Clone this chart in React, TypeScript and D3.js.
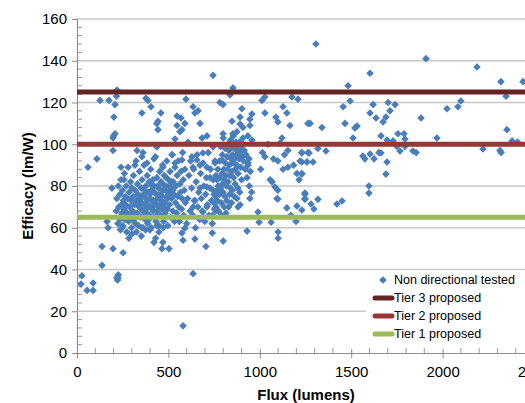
import React, { useEffect, useRef } from 'react';
import * as d3 from 'd3';

// efficacy (lm/W) vs flux (lumens)
const lowLeftPoints: [number, number][] = [
  [22, 33], [27, 37], [55, 30], [88, 33.5], [88, 30], [137, 42], [137, 51], [197, 50],
  [218, 36], [222, 35], [226, 37.5], [224, 36], [252, 48], [284, 55], [580, 13], [635, 38],
  [170, 60], [164, 63], [355, 60], [399, 59], [437, 61], [246, 60], [235, 64], [273, 67],
  [421, 53], [465, 50], [470, 53], [503, 50], [574, 57.5], [590, 59.8], [580, 54], [705, 51],
  [645, 54.6], [800, 53.6], [740, 57.5], [930, 58.4], [996, 62.6], [1062, 62.6], [1100, 58],
  [1100, 55], [1198, 63], [300, 57], [325, 58], [352, 56], [375, 59], [430, 55], [448, 58], [472, 60],
];

const upperLeftPoints: [number, number][] = [
  [60, 89], [109, 93], [126, 121], [175, 121], [208, 119], [202, 113], [208, 105], [197, 103],
  [200, 104], [197, 97], [219, 126], [216, 123], [241, 89], [257, 83], [191, 79], [377, 122],
  [388, 121], [405, 118], [355, 115], [459, 115], [443, 111], [437, 110], [443, 107], [547, 113.5],
  [596, 121.6], [569, 112.6], [590, 110], [547, 109], [574, 107], [563, 106], [536, 102.5],
  [607, 101], [328, 97], [361, 96], [355, 94], [437, 98.7], [421, 93], [383, 91], [317, 90],
  [470, 89], [520, 95], [574, 92.5], [536, 91], [629, 94], [673, 110], [662, 116], [645, 115],
  [635, 118], [711, 104], [684, 103], [744, 133],
];

const leftCluster: [number, number][] = [
  [215, 68], [218, 74], [224, 62], [226, 80], [229, 70], [233, 65], [235, 76], [238, 59], [241, 83],
  [243, 71], [246, 67], [249, 78], [251, 61], [254, 73], [257, 69], [259, 86], [262, 64], [264, 75],
  [267, 71], [270, 80], [272, 58], [274, 67], [277, 74], [280, 89], [283, 63], [285, 77], [288, 70],
  [291, 66], [293, 82], [296, 73], [298, 60], [301, 79], [304, 68], [307, 75], [309, 85], [312, 64],
  [315, 71], [318, 78], [320, 62], [323, 92], [326, 73], [329, 67], [331, 81], [334, 76], [337, 61],
  [340, 70], [342, 87], [345, 74], [348, 65], [351, 79], [354, 72], [356, 83], [359, 68], [362, 60],
  [364, 76], [367, 90], [370, 71], [373, 64], [376, 80], [378, 74], [381, 67], [384, 85], [387, 62],
  [389, 77], [392, 70], [395, 82], [398, 66], [401, 74], [403, 88], [406, 60], [409, 78], [412, 69],
  [415, 83], [418, 73], [420, 65], [423, 80], [426, 71], [429, 94], [432, 63], [434, 76], [437, 84],
  [440, 68], [443, 74], [446, 79], [449, 61], [452, 87], [454, 71], [457, 66], [460, 82], [463, 75],
  [466, 69], [468, 90], [471, 78], [474, 63], [477, 85], [480, 72], [483, 67], [486, 80], [489, 75],
  [491, 92], [494, 69], [497, 61], [500, 83], [503, 77], [506, 71], [509, 87], [512, 65], [515, 79],
  [518, 74], [521, 95], [524, 68], [527, 82], [530, 76], [533, 63], [536, 89], [539, 72], [542, 80],
  [545, 67], [548, 85], [551, 75], [554, 92], [557, 70], [560, 63], [563, 81], [566, 77], [569, 87],
  [572, 69], [575, 74], [578, 96], [581, 83], [584, 66], [587, 78], [590, 88], [593, 72],
  [305, 64], [318, 67], [333, 72], [347, 70], [358, 75], [366, 66], [372, 78], [379, 69], [385, 73],
  [393, 64], [399, 76], [405, 71], [411, 80], [417, 68], [422, 77], [428, 72], [436, 66], [441, 80],
  [447, 70], [455, 76], [462, 73], [469, 81], [475, 70], [482, 78], [488, 84], [496, 74], [502, 80],
  [510, 76], [517, 82], [525, 78],
];

const middlePoints: [number, number][] = [
  [600, 62], [605, 74], [612, 85], [618, 68], [622, 92], [627, 79], [633, 66], [638, 88], [642, 73],
  [648, 60], [652, 82], [657, 95], [661, 70], [666, 77], [671, 64], [676, 86], [680, 74], [685, 68],
  [690, 91], [694, 80], [699, 63], [704, 76], [708, 84], [713, 71], [718, 96], [722, 66], [727, 79],
  [731, 88], [736, 73], [740, 62], [745, 83], [750, 76], [755, 92], [760, 68],
];

const diagonalCluster: [number, number][] = [
  [742, 66], [748, 72], [752, 69], [757, 75], [761, 70], [765, 78], [768, 73], [772, 80], [775, 68],
  [779, 76], [782, 84], [786, 79], [789, 72], [793, 86], [796, 81], [799, 77], [803, 88], [806, 83],
  [809, 75], [812, 91], [815, 85], [818, 80], [821, 94], [824, 88], [827, 82], [830, 97], [833, 90],
  [836, 85], [839, 79], [842, 93], [845, 99], [848, 87], [851, 95], [854, 91], [857, 84], [860, 98],
  [863, 93], [866, 88], [869, 100], [872, 95], [875, 90], [878, 97], [881, 86], [884, 99], [887, 93],
  [890, 101], [893, 96], [896, 89], [899, 98], [903, 94], [907, 100], [911, 92], [915, 97], [920, 88],
  [925, 95], [930, 84], [936, 91], [942, 80], [948, 87], [955, 77],
  [780, 92], [795, 95], [810, 98], [825, 100], [840, 102], [855, 104], [870, 101], [790, 66],
  [805, 70], [820, 73], [835, 76], [850, 78], [865, 81], [880, 79], [900, 83], [760, 85], [770, 88],
  [785, 99], [800, 103], [815, 67], [830, 70], [845, 72], [860, 75], [875, 74], [890, 77],
];

const upperMidPoints: [number, number][] = [
  [853, 127], [837, 123.6], [782, 120], [799, 119], [902, 117], [848, 111], [892, 113], [957, 114.5],
  [946, 112], [892, 109.7], [908, 108], [946, 109], [1028, 115], [1012, 121], [1028, 122.6],
  [1088, 113], [1099, 110.7], [1127, 118], [1148, 115], [1165, 109], [1176, 122.6], [1209, 121.6],
  [1264, 110], [875, 106], [799, 105], [853, 105], [935, 104], [957, 102], [908, 103], [1121, 103],
  [1110, 100.5], [744, 98.7], [1154, 97], [1230, 95.8], [1264, 96], [1028, 94], [1099, 92],
  [1220, 92], [1258, 91.5], [1127, 88], [1154, 89], [1203, 86], [1230, 85.7], [1067, 82],
  [1083, 79.5], [1099, 78], [1099, 73.8], [1148, 69.5], [1203, 70.4], [1247, 74], [1247, 76.6],
  [689, 95.8], [656, 92.5], [673, 90], [711, 89], [755, 91], [793, 92.5], [635, 89], [728, 84],
  [673, 79], [711, 79.5], [744, 78], [766, 83], [645, 73], [635, 70], [711, 70], [689, 67.5],
  [892, 71], [946, 74], [881, 70], [990, 67.5], [935, 90], [941, 93], [1056, 83], [1094, 74],
  [1005, 88], [1015, 96], [1045, 100], [1075, 93], [1135, 95], [1185, 90], [1215, 83], [1170, 66],
];

const rightPoints: [number, number][] = [
  [1307, 148], [1909, 141], [2188, 137], [2319, 130], [2440, 130], [1603, 134], [1483, 128],
  [1494, 120.7], [1456, 118], [1620, 119], [1702, 120], [1740, 119], [1712, 116], [1603, 115],
  [1636, 112.6], [1690, 113], [1674, 110.7], [1275, 110], [1340, 108], [1466, 110], [1520, 107.8],
  [1532, 108.7], [1510, 103], [1663, 104], [1882, 112.6], [2024, 117], [2084, 118], [2100, 120.7],
  [2347, 123], [2352, 107], [2380, 101.6], [2410, 101], [1969, 103], [2221, 97.7], [2314, 97],
  [2320, 96], [1696, 102], [1729, 101.6], [1756, 105], [1789, 105], [1794, 102.5], [1750, 99],
  [1767, 96.8], [1794, 99], [1838, 96.8], [1855, 96], [1663, 95.8], [1652, 96], [1603, 95.3],
  [1625, 93], [1696, 91.5], [1690, 85.7], [1564, 94.4], [1575, 93], [1597, 80], [1597, 76.6],
  [1230, 96], [1270, 95.8], [1230, 91.5], [1258, 91.5], [1291, 91.5], [1230, 86], [1318, 98],
  [1362, 96.8], [1247, 76], [1247, 73.6], [1280, 71.4], [1296, 69], [1318, 73.6], [1230, 68.5],
  [1422, 71.4], [1450, 72.8],
];

const scatterPoints = [
  ...lowLeftPoints, ...upperLeftPoints, ...leftCluster, ...middlePoints,
  ...diagonalCluster, ...upperMidPoints, ...rightPoints,
];

const tierNames = ['Tier 3 proposed', 'Tier 2 proposed', 'Tier 1 proposed'];
const tierValues = [125, 100, 65];
const tierColors = ['#632523', '#953735', '#9bbb59'];
const seriesName = 'Non directional tested';

const yTicks = [0, 20, 40, 60, 80, 100, 120, 140, 160];
const xTicks = [0, 500, 1000, 1500, 2000, 2500];

const App = () => {
  const svgRef = useRef<SVGSVGElement>(null);

  useEffect(() => {
    const W = 525, H = 403;
    const left = 77, top = 19, bottom = 353, right = 534;
    const svg = d3.select(svgRef.current);
    svg.selectAll('*').remove();
    svg.attr('width', W).attr('height', H);

    const x = d3.scaleLinear().domain([0, 2500]).range([left, right]);
    const y = d3.scaleLinear().domain([0, 160]).range([bottom, top]);
    const font = 'Liberation Sans, Arial, sans-serif';

    svg.append('rect').attr('width', W).attr('height', H).attr('fill', 'white');

    // gridlines
    svg.append('g').selectAll('line')
      .data(yTicks.filter(d => d > 0))
      .enter().append('line')
      .attr('x1', left).attr('x2', right)
      .attr('y1', d => y(d)).attr('y2', d => y(d))
      .attr('stroke', '#c8c8c8').attr('stroke-width', 1.5);

    // minor ticks
    const yMinor = d3.range(0, 161, 4).filter(d => d % 20 !== 0);
    svg.append('g').selectAll('line').data(yMinor).enter().append('line')
      .attr('x1', left).attr('x2', left + 5)
      .attr('y1', d => y(d)).attr('y2', d => y(d))
      .attr('stroke', '#999').attr('stroke-width', 1);
    const xMinor = d3.range(0, 2501, 100).filter(d => d % 500 !== 0);
    svg.append('g').selectAll('line').data(xMinor).enter().append('line')
      .attr('x1', d => x(d)).attr('x2', d => x(d))
      .attr('y1', bottom - 5).attr('y2', bottom)
      .attr('stroke', '#999').attr('stroke-width', 1);

    // axes
    const yAxis = svg.append('g').attr('transform', `translate(${left},0)`)
      .call(d3.axisLeft(y).tickValues(yTicks).tickSize(5).tickPadding(5));
    const xAxis = svg.append('g').attr('transform', `translate(0,${bottom})`)
      .call(d3.axisBottom(x).tickValues(xTicks).tickFormat(d3.format('d')).tickSize(5).tickPadding(8));
    [yAxis, xAxis].forEach(a => {
      a.select('.domain').attr('stroke', '#8c8c8c').attr('stroke-width', 1.2);
      a.selectAll('.tick line').attr('stroke', '#8c8c8c');
      a.selectAll('.tick text').attr('fill', '#000').style('font-size', '15px').style('font-family', font);
    });
    xAxis.selectAll('.tick line').attr('y1', -4);

    // scatter
    const diamond = 'M0,-3.8L3.8,0L0,3.8L-3.8,0Z';
    svg.append('g').selectAll('path').data(scatterPoints).enter().append('path')
      .attr('d', diamond)
      .attr('transform', d => `translate(${x(d[0])},${y(d[1])})`)
      .attr('fill', '#4a7ebb');

    // tier lines
    svg.append('g').selectAll('line').data(tierValues).enter().append('line')
      .attr('x1', left).attr('x2', right)
      .attr('y1', d => y(d)).attr('y2', d => y(d))
      .attr('stroke', (d, i) => tierColors[i]).attr('stroke-width', 5);

    // axis titles
    svg.append('text')
      .attr('x', 306).attr('y', 400)
      .attr('text-anchor', 'middle')
      .style('font-size', '15px').style('font-weight', 'bold').style('font-family', font)
      .text('Flux (lumens)');
    svg.append('text')
      .attr('transform', 'translate(33,186) rotate(-90)')
      .attr('text-anchor', 'middle')
      .style('font-size', '15px').style('font-weight', 'bold').style('font-family', font)
      .text('Efficacy (lm/W)');

    // legend
    const lg = svg.append('g');
    lg.append('rect').attr('x', 366).attr('y', 271).attr('width', 160).attr('height', 74).attr('fill', 'white');
    const rowY = [280, 298, 316, 334];
    lg.append('path').attr('d', diamond).attr('transform', `translate(383,${rowY[0]})`).attr('fill', '#4a7ebb');
    tierNames.forEach((n, i) => {
      lg.append('line')
        .attr('x1', 375).attr('x2', 392)
        .attr('y1', rowY[i + 1]).attr('y2', rowY[i + 1])
        .attr('stroke', tierColors[i]).attr('stroke-width', 5).attr('stroke-linecap', 'round');
    });
    [seriesName, ...tierNames].forEach((n, i) => {
      lg.append('text')
        .attr('x', 394).attr('y', rowY[i]).attr('dy', '0.35em')
        .style('font-size', '12.5px').style('font-family', font)
        .text(n);
    });
  }, []);

  return <svg ref={svgRef} style={{ position: 'absolute', left: 0, top: 0 }}></svg>;
};

export default App;
